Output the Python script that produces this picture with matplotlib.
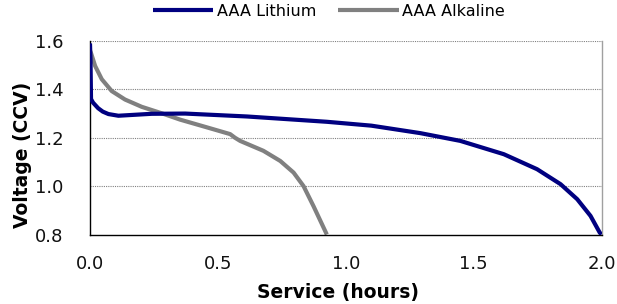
import matplotlib.pyplot as plt
import matplotlib as mpl

mpl.rcParams['font.family'] = ['DejaVu Sans']

# (hours, volts)
li_t = [0.0, 0.002, 0.004, 0.012, 0.032, 0.05, 0.072, 0.111, 0.241, 0.372, 0.613, 0.926,
        1.1, 1.292, 1.448, 1.618, 1.748, 1.84, 1.905, 1.957, 1.993, 2.0]
li_v = [1.59, 1.52, 1.36, 1.345, 1.322, 1.308, 1.298, 1.291, 1.299, 1.30, 1.288, 1.266,
        1.25, 1.219, 1.187, 1.132, 1.07, 1.008, 0.946, 0.877, 0.808, 0.8]

al_t = [0.0, 0.004, 0.02, 0.046, 0.085, 0.137, 0.202, 0.281, 0.352, 0.457, 0.548, 0.567,
        0.587, 0.678, 0.744, 0.796, 0.835, 0.874, 0.926]
al_v = [1.56, 1.55, 1.497, 1.442, 1.393, 1.358, 1.328, 1.301, 1.275, 1.243, 1.215, 1.2,
        1.187, 1.146, 1.104, 1.056, 1.0, 0.917, 0.8]

xticks = [0.0, 0.5, 1.0, 1.5, 2.0]
yticks = [0.8, 1.0, 1.2, 1.4, 1.6]

fig = plt.figure(figsize=(6.17, 3.04), dpi=100)
ax = fig.add_axes([90/617, 69.5/304, 511.5/617, 193.5/304])

for y in yticks[1:]:
    ax.axhline(y, color='#808080', lw=0.8, ls=(0, (1, 1)), zorder=1)

ax.plot(li_t, li_v, color='#000080', lw=3, label='AAA Lithium', zorder=3,
        solid_capstyle='butt', solid_joinstyle='round')
ax.plot(al_t, al_v, color='#808080', lw=3, label='AAA Alkaline', zorder=2,
        solid_capstyle='butt', solid_joinstyle='round')

ax.set_xlim(0, 2.0)
ax.set_ylim(0.8, 1.6)
ax.set_xticks(xticks)
ax.set_yticks(yticks)
ax.set_xticklabels(['%.1f' % v for v in xticks])
ax.set_yticklabels(['%.1f' % v for v in yticks])
ax.tick_params(length=0, labelsize=13, colors='#111111')
ax.tick_params(axis='x', pad=15)
ax.tick_params(axis='y', pad=19)

ax.spines['top'].set_visible(False)
ax.spines['right'].set_color('#a0a0a0')
ax.spines['left'].set_color('black')
ax.spines['bottom'].set_color('black')
for s in ax.spines.values():
    s.set_linewidth(1)

ax.set_xlabel('Service (hours)', fontsize=13.5, fontweight='bold', va='top')
ax.set_ylabel('Voltage (CCV)', fontsize=13.5, fontweight='bold')
ax.xaxis.set_label_coords(0.484, -0.252)
ax.yaxis.set_label_coords(-0.113, 0.41)

fig.legend(loc='upper center', bbox_to_anchor=(0.533, 1.035), ncol=2, frameon=False,
           fontsize=11.5, handlelength=3.8, handletextpad=0.2, columnspacing=1.4)

fig.savefig('out.png', dpi=100)
